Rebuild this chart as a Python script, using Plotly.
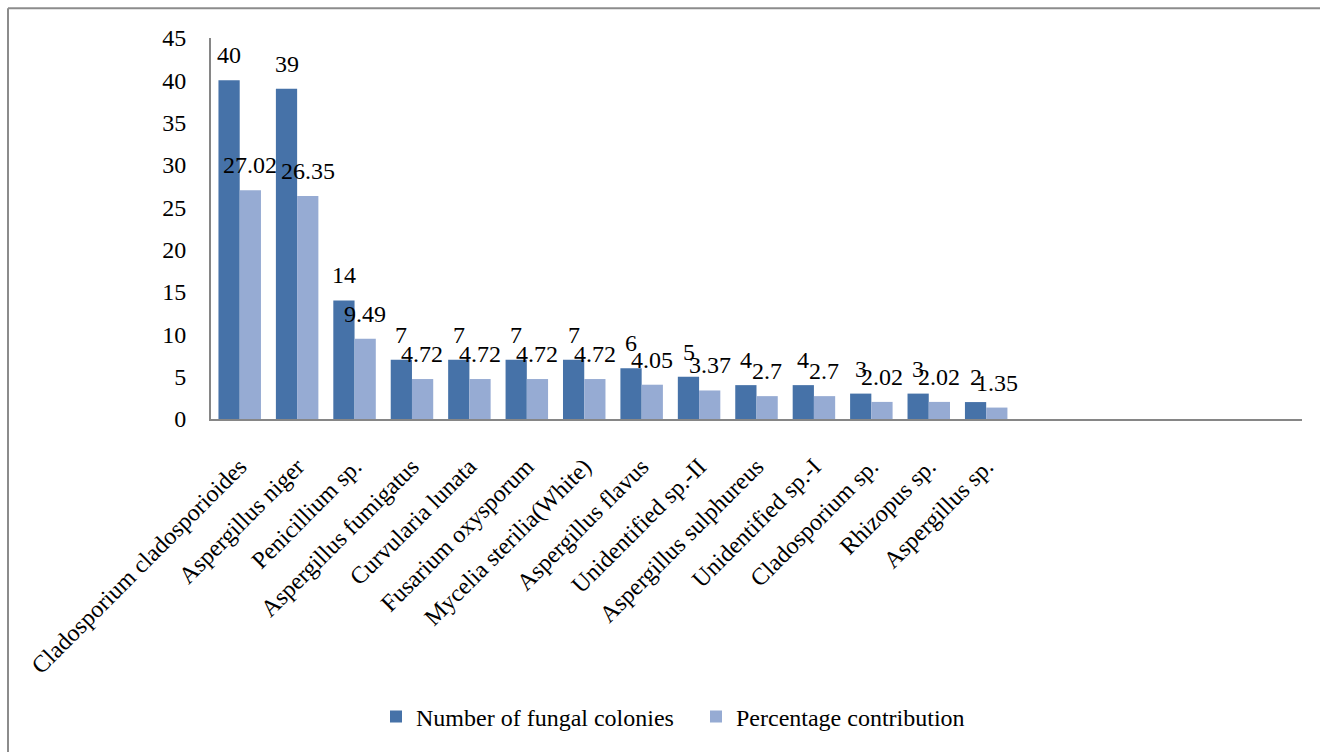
import plotly.graph_objects as go

# Fungal isolates and their counts / share of total colonies
species = [
    "Cladosporium cladosporioides", "Aspergillus niger", "Penicillium sp.",
    "Aspergillus fumigatus", "Curvularia lunata", "Fusarium oxysporum",
    "Mycelia sterilia(White)", "Aspergillus flavus", "Unidentified sp.-II",
    "Aspergillus sulphureus", "Unidentified sp.-I", "Cladosporium sp.",
    "Rhizopus sp.", "Aspergillus sp.",
]
colonies = [40, 39, 14, 7, 7, 7, 7, 6, 5, 4, 4, 3, 3, 2]
percentage = [27.02, 26.35, 9.49, 4.72, 4.72, 4.72, 4.72, 4.05, 3.37, 2.7, 2.7, 2.02, 2.02, 1.35]
y_ticks = [0, 5, 10, 15, 20, 25, 30, 35, 40, 45]

FONT = "Liberation Serif"
DARK = "#4672A8"
LIGHT = "#96ABD3"

# plot-area geometry in pixels (used to place the frame and legend)
W, H = 1320, 752
L, R, T, B = 211, 18, 38, 329
PW, PH = W - L - R, H - T - B

fig = go.Figure()
fig.add_trace(go.Bar(
    x=species, y=colonies, name="Number of fungal colonies",
    marker=dict(color=DARK, line=dict(width=0)),
))
fig.add_trace(go.Bar(
    x=species, y=percentage, name="Percentage contribution",
    marker=dict(color=LIGHT, line=dict(width=0)),
))

# value labels above each bar
annotations = []
for name, c, p in zip(species, colonies, percentage):
    for val, shift in ((c, -10.5), (p, 10.5)):
        annotations.append(dict(
            x=name, y=val, xref="x", yref="y", text=f"{val:g}",
            showarrow=False, xanchor="center", yanchor="bottom",
            xshift=shift, yshift=10,
            font=dict(family=FONT, size=24, color="black"),
        ))

# chart-area frame: only its top and left edges fall inside the page
def px_x(v):
    return (v - L) / PW

def px_y(v):
    return (H - B - v) / PH

frame = dict(color="#8C8C8C", width=2)
fig.add_shape(type="line", xref="paper", yref="paper",
              x0=px_x(8), x1=px_x(1330), y0=px_y(8), y1=px_y(8), line=frame)
fig.add_shape(type="line", xref="paper", yref="paper",
              x0=px_x(8), x1=px_x(8), y0=px_y(8), y1=px_y(760), line=frame)

fig.update_layout(
    width=W, height=H,
    margin=dict(l=L, r=R, t=T, b=B, pad=0),
    paper_bgcolor="white", plot_bgcolor="white",
    barmode="group", bargap=0.26, bargroupgap=0,
    font=dict(family=FONT, size=24, color="black"),
    annotations=annotations,
    showlegend=True,
    legend=dict(
        orientation="h", x=px_x(696), xanchor="center",
        y=px_y(724), yanchor="middle",
        font=dict(family=FONT, size=24, color="black"),
        itemwidth=30, entrywidth=275, entrywidthmode="pixels",
    ),
    xaxis=dict(
        type="category", range=[-0.5, 18.5],
        tickangle=-45, tickfont=dict(family=FONT, size=24, color="black"),
        showline=True, linecolor="#868686", linewidth=2,
        ticks="", showgrid=False, zeroline=False,
        ticklabelstandoff=22,
    ),
    yaxis=dict(
        range=[0, 45], tickvals=y_ticks,
        tickfont=dict(family=FONT, size=24, color="black"),
        showline=True, linecolor="#868686", linewidth=2,
        ticks="", showgrid=False, zeroline=False,
        ticklabelstandoff=18,
    ),
)

fig.write_html("out.html")
